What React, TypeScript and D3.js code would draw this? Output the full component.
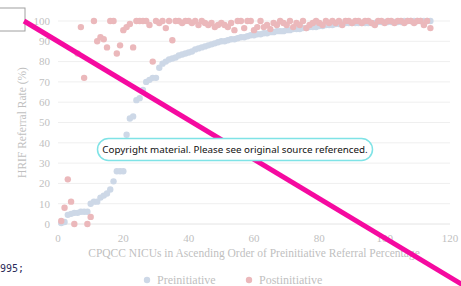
import React from 'react';
import * as d3 from 'd3';

// NICU index 1..114, sorted by preinitiative referral rate
const preRates = [
  0.5, 1, 4.5, 5, 5.5, 5.5, 6, 6, 6, 10,
  11, 11, 13, 14, 15, 17, 21, 26, 26, 26,
  44, 52, 53, 61, 62, 66, 70, 71, 72, 72,
  77, 79, 80, 81, 81.5, 82, 83, 83.5, 84, 84.5,
  85, 86, 86.5, 87, 87.5, 88, 88.5, 89, 89.5, 90,
  90, 90.5, 91, 91, 91.5, 92, 92, 92.5, 93, 93,
  93.5, 93.5, 94, 94, 94.5, 94.5, 95, 95, 95, 95.5,
  95.5, 96, 96, 96, 96.5, 96.5, 97, 97, 97, 97.5,
  97.5, 98, 98, 98, 98.5, 98.5, 98.5, 99, 99, 99,
  99, 99, 99, 99, 99, 99, 99, 99.5, 99.5, 99.5,
  99.5, 99.5, 99.5, 99.5, 99.5, 100, 100, 100, 100, 100,
  100, 100, 100, 100,
];

const postRates = [
  1.5, 8, 22, 11, 0, 84, 97, 72, 0, 3.5,
  100, 90, 92, 91, 87, 100, 100, 84, 88, 95.5,
  97, 98.5, 87, 100, 100, 100, 100, 98, 80, 100,
  99, 100, 96.5, 100, 90.5, 100, 100, 99, 100, 100,
  99, 100, 98, 100, 99, 98, 99, 97, 98, 99,
  98, 97, 99, 95.5, 100, 100, 96.5, 100, 100, 95.5,
  97, 100, 97, 98, 96, 99, 98, 100, 99, 98,
  100, 97, 99, 98, 100, 96.5, 98, 99, 100, 99,
  98, 100, 99, 100, 99, 100, 98, 100, 100, 99,
  100, 100, 99, 100, 100, 99, 98, 100, 100, 99,
  100, 100, 99, 100, 100, 99, 100, 100, 99, 100,
  100, 98, 100, 96.5,
];

const xTicks = [0, 20, 40, 60, 80, 100, 120];
const yTicks = [0, 10, 20, 30, 40, 50, 60, 70, 80, 90, 100];

const seriesNames = ['Preinitiative', 'Postinitiative'];
const seriesColors = ['#cdd8e7', '#ebb8bb'];

const W = 461;
const H = 286;
const margin = { top: 21, right: 11, bottom: 62, left: 58 };

const App = () => {
  const x = d3.scaleLinear().domain([0, 120]).range([margin.left, W - margin.right]);
  const y = d3.scaleLinear().domain([0, 100]).range([H - margin.bottom, margin.top]);

  const serif = '"Liberation Serif", "Times New Roman", serif';
  const grey = '#bfbfbf';

  return (
    <svg width={W} height={H} style={{ position: 'absolute', left: 0, top: 0, background: '#fff' }}>
      {/* gridlines */}
      {yTicks.map(t => (
        <line key={t} x1={x(0)} x2={x(120)} y1={y(t)} y2={y(t)}
          stroke={t === 0 ? '#e4e4e4' : '#efefef'} strokeWidth={1} />
      ))}

      {/* y ticks */}
      {yTicks.map(t => (
        <text key={t} x={x(0) - 8} y={y(t)} dy="0.35em" textAnchor="end"
          fontFamily={serif} fontSize={11} fill={grey}>{t}</text>
      ))}

      {/* x ticks */}
      {xTicks.map(t => (
        <text key={t} x={x(t)} y={y(0) + 14} dy="0.35em" textAnchor="middle"
          fontFamily={serif} fontSize={11} fill={grey}>{t}</text>
      ))}

      {/* points */}
      {preRates.map((v, i) => (
        <circle key={'a' + i} cx={x(i + 1)} cy={y(v)} r={3.2} fill={seriesColors[0]} />
      ))}
      {postRates.map((v, i) => (
        <circle key={'b' + i} cx={x(i + 1)} cy={y(v)} r={3.2} fill={seriesColors[1]} />
      ))}

      {/* axis titles */}
      <text x={(x(0) + x(120)) / 2} y={y(0) + 33} textAnchor="middle"
        fontFamily={serif} fontSize={11.5} fill={grey}>
        CPQCC NICUs in Ascending Order of Preinitiative Referral Percentage
      </text>
      <text transform={`translate(26,${(y(0) + y(100)) / 2}) rotate(-90)`} textAnchor="middle"
        fontFamily={serif} fontSize={11.5} fill={grey}>
        HRIF Referral Rate (%)
      </text>

      {/* legend */}
      {seriesNames.map((name, i) => {
        const lx = i === 0 ? 147 : 249;
        return (
          <g key={name}>
            <circle cx={lx} cy={280} r={3.2} fill={seriesColors[i]} />
            <text x={lx + 10} y={280} dy="0.35em" fontFamily={serif} fontSize={12} fill={grey}>{name}</text>
          </g>
        );
      })}

      {/* overlays from the source image */}
      <text x={0} y={272} fontFamily='"DejaVu Sans Mono", monospace' fontSize={10} fill="#2b2b5a">995;</text>
      <rect x={-1} y={8} width={26} height={23} fill="#fff" stroke="#a0a0a0" strokeWidth={1} />
      <line x1={24} y1={21} x2={463} y2={285} stroke="#f50aa0" strokeWidth={5} />
      <rect x={97.5} y={138.5} width={275} height={22} rx={11} fill="#fff" stroke="#7fe3e6" strokeWidth={1.5} />
      <text x={235} y={149.5} dy="0.35em" textAnchor="middle"
        fontFamily='"Noto Sans", "Open Sans", sans-serif' fontSize={9.8} fill="#111">
        Copyright material. Please see original source referenced.
      </text>
    </svg>
  );
};

export default App;
